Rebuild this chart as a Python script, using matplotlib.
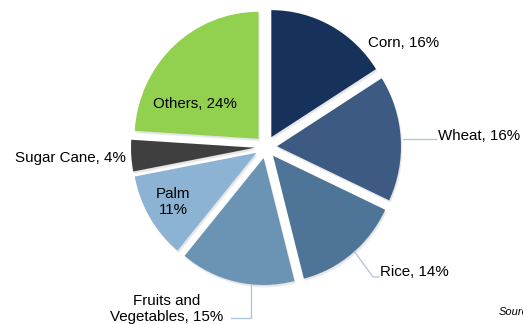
import matplotlib.pyplot as plt
from matplotlib.patches import Wedge
import numpy as np

plt.rcParams["font.family"] = ["Liberation Sans", "DejaVu Sans"]

crops = ["Corn", "Wheat", "Rice", "Fruits and\nVegetables", "Palm", "Sugar Cane", "Others"]
shares = [16, 16, 14, 15, 11, 4, 24]
colors = ["#17325a", "#3c5a82", "#4e7597", "#6b93b3", "#8cb3d3", "#3f3f3f", "#92d050"]

W, H = 523, 324
SY = 1.024  # pie is drawn slightly taller than wide


def px(x, y):
    # image pixel position (origin top-left) -> data coordinates
    return x, (H - y) / SY


cx, cy = px(266, 147)
R = 124
gap = 11  # explode distance in data units

fig = plt.figure(figsize=(W / 100, H / 100), dpi=100)
ax = fig.add_axes([0, 0, 1, 1])

wedges, _ = ax.pie(
    shares,
    colors=colors,
    startangle=90,
    counterclock=False,
    center=(cx, cy),
    radius=R,
    explode=[gap] * len(shares),
    wedgeprops=dict(linewidth=0, zorder=2),
    frame=True,
)
# faint soft shadow under each slice
for w in wedges:
    sx, sy = w.center
    for k in (2.5, 1.5):
        ax.add_patch(Wedge((sx + k * 0.6, sy - k), w.r, w.theta1, w.theta2,
                           facecolor="#a0a0a0", edgecolor="none", alpha=0.15, zorder=1))

ax.set_xlim(0, W)
ax.set_ylim(0, H / SY)
ax.set_aspect("auto")
ax.axis("off")


def edge_point(w, ang):
    # point on the exploded wedge's arc at angle ang (degrees)
    wx, wy = w.center
    a = np.deg2rad(ang)
    return wx + w.r * np.cos(a), wy + w.r * np.sin(a)


labels = [f"{c}, {s}%" for c, s in zip(crops, shares)]
labels[4] = f"{crops[4]}\n{shares[4]}%"
fs = 10.9
lead = "#a9c3df"

# Corn
ax.text(*px(368, 43), labels[0], fontsize=fs, ha="left", va="center")
# Wheat with leader
x0, y0 = edge_point(wedges[1], 0)
ax.plot([x0 + 2, 436], [px(0, 139)[1]] * 2, color=lead, lw=0.9)
ax.text(*px(438, 136), labels[1], fontsize=fs, ha="left", va="center")
# Rice with leader
x0, y0 = edge_point(wedges[2], -49)
ax.plot([x0, 373, 379], [y0, px(0, 277)[1], px(0, 277)[1]], color=lead, lw=0.9)
ax.text(*px(380, 272), labels[2], fontsize=fs, ha="left", va="center")
# Fruits and Vegetables with leader
x0, y0 = edge_point(wedges[3], -96)
ax.plot([x0, x0, 231], [y0, px(0, 318)[1], px(0, 318)[1]], color=lead, lw=0.9)
ax.text(*px(167, 309), labels[3], fontsize=fs, ha="center", va="center",
        linespacing=1.25)
# Palm inside
ax.text(*px(173, 202), labels[4], fontsize=fs, ha="center", va="center",
        linespacing=1.2)
# Sugar Cane
ax.text(*px(126, 158), labels[5], fontsize=fs, ha="right", va="center")
# Others inside
ax.text(*px(195, 104), labels[6], fontsize=fs, ha="center", va="center")

ax.text(*px(499, 312), "Source:", fontsize=8, style="italic", ha="left", va="center")

fig.savefig("out.png", dpi=100)
